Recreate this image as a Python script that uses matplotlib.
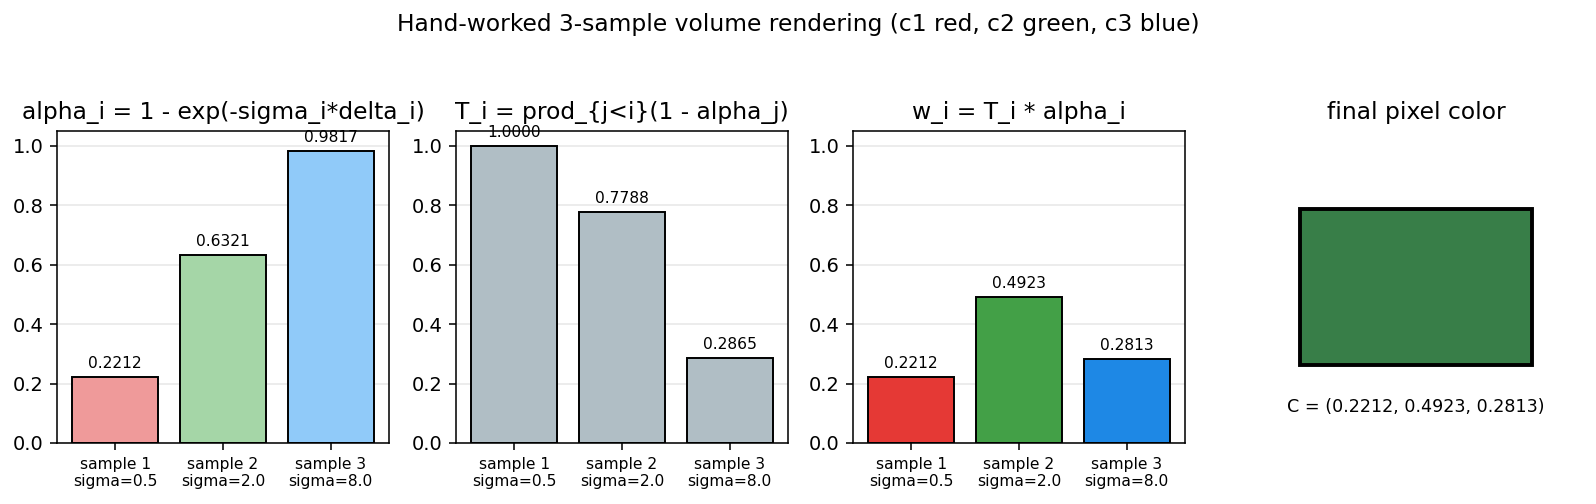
import matplotlib
matplotlib.use("Agg")
import matplotlib.pyplot as plt
from matplotlib.patches import Rectangle

SAMPLE_LABELS = ["sample 1\nsigma=0.5", "sample 2\nsigma=2.0", "sample 3\nsigma=8.0"]
ALPHA = [0.2212, 0.6321, 0.9817]
TRANS = [1.0000, 0.7788, 0.2865]
WEIGHT = [0.2212, 0.4923, 0.2813]
FINAL_COLOR = (0.2212, 0.4923, 0.2813)

LIGHT_COLORS = ["#ef9a9a", "#a5d6a7", "#90caf9"]
GREY = "#b0bec5"
STRONG_COLORS = ["#e53935", "#43a047", "#1e88e5"]

TITLES = ["alpha_i = 1 - exp(-sigma_i*delta_i)",
          "T_i = prod_{j<i}(1 - alpha_j)",
          "w_i = T_i * alpha_i"]

DPI = 140
fig = plt.figure(figsize=(1596.0 / DPI, 504.0 / DPI), dpi=DPI)
fig.suptitle("Hand-worked 3-sample volume rendering (c1 red, c2 green, c3 blue)",
             fontsize=12, y=0.975)

# axes boxes in pixels of the 1596x504 canvas
lefts = [57, 456, 853, 1250]
bottom = (504 - 443) / 504.0
height = (443 - 131) / 504.0
width = 332 / 1596.0

series = [ALPHA, TRANS, WEIGHT]
colors = [LIGHT_COLORS, [GREY] * 3, STRONG_COLORS]

for k in range(3):
    ax = fig.add_axes([lefts[k] / 1596.0, bottom, width, height])
    x = range(len(SAMPLE_LABELS))
    bars = ax.bar(x, series[k], width=0.8, color=colors[k], edgecolor="black", linewidth=1.0)
    for rect, v in zip(bars, series[k]):
        ax.text(rect.get_x() + rect.get_width() / 2, v + 0.02, "%.4f" % v,
                ha="center", va="bottom", fontsize=8)
    ax.set_xticks(list(x))
    ax.set_xticklabels(SAMPLE_LABELS, fontsize=8)
    ax.set_ylim(0, 1.05)
    ax.grid(axis="y", alpha=0.3)
    ax.set_axisbelow(True)
    ax.set_title(TITLES[k], fontsize=12)

ax4 = fig.add_axes([lefts[3] / 1596.0, bottom, width, height])
ax4.add_patch(Rectangle((0.15, 0.25), 0.7, 0.5, facecolor=FINAL_COLOR,
                        edgecolor="black", linewidth=2))
ax4.set_xlim(0, 1)
ax4.set_ylim(0, 1)
ax4.axis("off")
ax4.set_title("final pixel color", fontsize=12)
ax4.text(0.5, 0.115, "C = (%.4f, %.4f, %.4f)" % FINAL_COLOR,
         ha="center", va="center", fontsize=9)

fig.savefig("out.png", dpi=DPI)
